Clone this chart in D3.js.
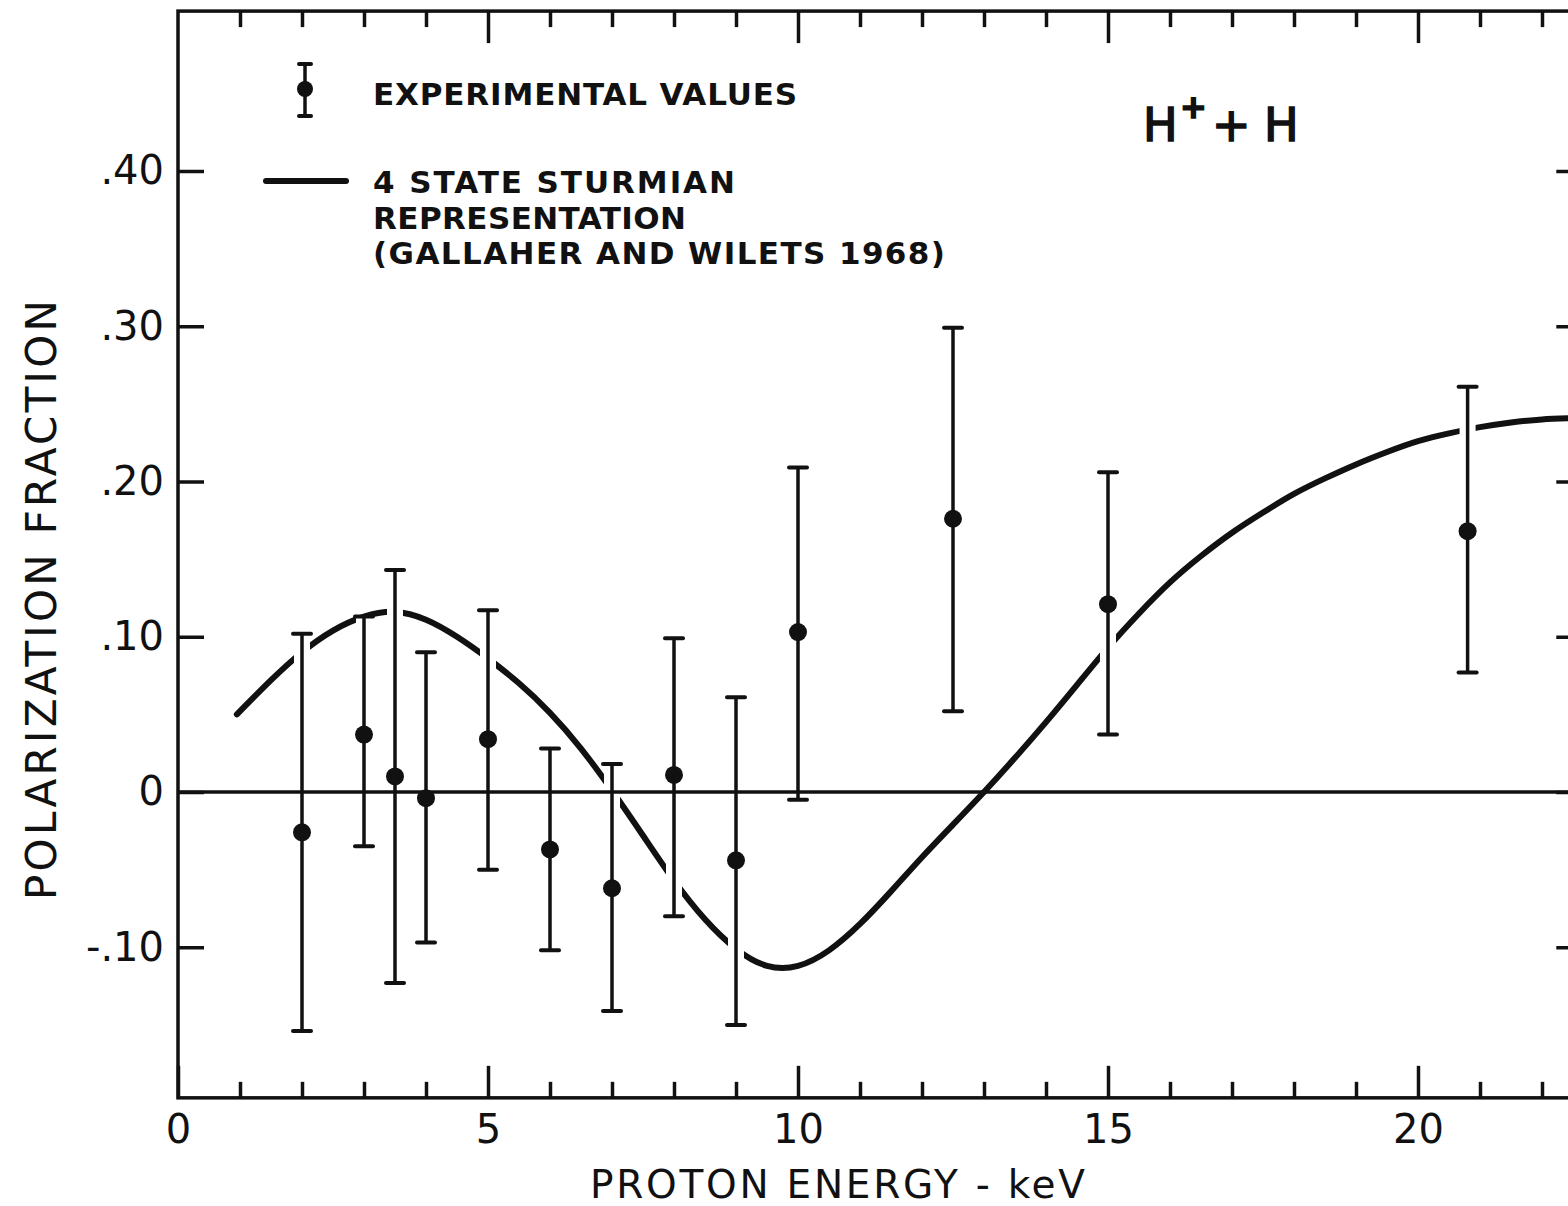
<!DOCTYPE html>
<html>
  <head>
    <meta charset="utf-8">
    <title>Polarization fraction, H+ + H</title>
    <script src="https://cdn.jsdelivr.net/npm/d3@7"></script>
    <style type="text/css">
      body { margin: 0; background: #fff; }
      svg { display: block; }
      text { font-family: "DejaVu Sans", sans-serif; fill: #111; }
    </style>
  </head>
  <body>
    <script>
    //Canvas size
    var svgWidth = 1568;
    var svgHeight = 1206;

    //Experimental points: energy (keV), value, top and bottom of the error bar
    var energy       = [2, 3, 3.5, 4, 5, 6, 7, 8, 9, 10, 12.5, 15, 20.8];
    var polarization = [-0.026, 0.037, 0.010, -0.004, 0.034, -0.037, -0.062, 0.011, -0.044, 0.103, 0.176, 0.121, 0.168];
    var errUpper     = [0.102, 0.113, 0.143, 0.090, 0.117, 0.028, 0.018, 0.099, 0.061, 0.209, 0.299, 0.206, 0.261];
    var errLower     = [-0.154, -0.035, -0.123, -0.097, -0.050, -0.102, -0.141, -0.080, -0.150, -0.005, 0.052, 0.037, 0.077];

    //4 state Sturmian curve
    var curveEnergy = [0.95, 1.5, 2, 2.5, 3, 3.5, 4, 4.5, 5, 5.5, 6, 6.5, 7, 7.5, 8, 8.5, 9, 9.5, 10, 10.5, 11, 11.5,
                       12, 12.5, 13, 13.5, 14, 14.5, 15, 15.5, 16, 16.5, 17, 17.5, 18, 18.5, 19, 19.5, 20, 20.5, 21, 21.5, 22, 22.65];
    var curveValue  = [0.050, 0.072, 0.090, 0.104, 0.113, 0.116, 0.111, 0.100, 0.086, 0.070, 0.051, 0.028, 0.001, -0.028,
                       -0.057, -0.082, -0.101, -0.112, -0.112, -0.102, -0.085, -0.064, -0.042, -0.021, 0.000, 0.022,
                       0.045, 0.069, 0.093, 0.115, 0.135, 0.152, 0.167, 0.180, 0.192, 0.202, 0.211, 0.219, 0.226,
                       0.231, 0.235, 0.238, 0.240, 0.241];

    //Ticks and labels
    var xMajorTicks = [0, 5, 10, 15, 20];
    var xMinorTicks = [1, 2, 3, 4, 6, 7, 8, 9, 11, 12, 13, 14, 16, 17, 18, 19, 21, 22];
    var yTicks = [-0.1, 0, 0.1, 0.2, 0.3, 0.4];
    var yTickLabels = ["-.10", "0", ".10", ".20", ".30", ".40"];

    //Frame extent in data units (right edge runs off the page)
    var xDomain = [0, 22.65];
    var yDomain = [-0.197, 0.503];

    var xScale = d3.scaleLinear().domain(xDomain).range([178, 178 + 62 * 22.65]);
    var yScale = d3.scaleLinear().domain(yDomain).range([792 + 1552.5 * 0.197, 792 - 1552.5 * 0.503]);

    var svg = d3.select("body")
      .append("svg")
        .attr("width", svgWidth)
        .attr("height", svgHeight);

    var x0 = xScale(xDomain[0]), x1 = xScale(xDomain[1]);
    var y0 = yScale(yDomain[0]), y1 = yScale(yDomain[1]);

    //Frame
    svg.append("rect")
      .attr("x", x0).attr("y", y1)
      .attr("width", x1 - x0).attr("height", y0 - y1)
      .attr("fill", "none").attr("stroke", "#111").attr("stroke-width", 3.5);

    function styleAxis(g) {
      g.select(".domain").remove();
      g.selectAll(".tick line").attr("stroke", "#111").attr("stroke-width", 3.5);
      g.selectAll(".tick text").attr("font-size", 40).attr("fill", "#111")
        .style("font-family", "'DejaVu Sans', sans-serif");
    }

    //Bottom axis: long labelled ticks and short minor ones, all pointing inwards
    svg.append("g").attr("transform", "translate(0," + y0 + ")")
      .call(d3.axisBottom(xScale).tickValues(xMajorTicks).tickSize(-32).tickPadding(17).tickFormat(d3.format("d")))
      .call(styleAxis);
    svg.append("g").attr("transform", "translate(0," + y0 + ")")
      .call(d3.axisBottom(xScale).tickValues(xMinorTicks).tickSize(-16).tickFormat(""))
      .call(styleAxis);

    //Top axis
    svg.append("g").attr("transform", "translate(0," + y1 + ")")
      .call(d3.axisTop(xScale).tickValues(xMajorTicks.filter(function(d){ return d > 0; })).tickSize(-32).tickFormat(""))
      .call(styleAxis);
    svg.append("g").attr("transform", "translate(0," + y1 + ")")
      .call(d3.axisTop(xScale).tickValues(xMinorTicks).tickSize(-16).tickFormat(""))
      .call(styleAxis);

    //Left and right axes
    svg.append("g").attr("transform", "translate(" + x0 + ",0)")
      .call(d3.axisLeft(yScale).tickValues(yTicks).tickSize(-26).tickPadding(14)
        .tickFormat(function(d, i){ return yTickLabels[i]; }))
      .call(styleAxis);
    svg.append("g").attr("transform", "translate(" + x1 + ",0)")
      .call(d3.axisRight(yScale).tickValues(yTicks).tickSize(-26).tickFormat(""))
      .call(styleAxis);

    //Theory curve
    var line = d3.line()
      .x(function(d){ return xScale(d[0]); })
      .y(function(d){ return yScale(d[1]); })
      .curve(d3.curveNatural);

    svg.append("path")
      .datum(d3.zip(curveEnergy, curveValue))
      .attr("d", line)
      .attr("fill", "none")
      .attr("stroke", "#111")
      .attr("stroke-width", 6)
      .attr("stroke-linecap", "round");

    var points = energy.map(function(e, i) {
      return { e: e, v: polarization[i], hi: errUpper[i], lo: errLower[i] };
    });

    //White gaps where the error bars cross the curve, as drawn in the original
    svg.selectAll("line.gap")
      .data(points)
      .enter()
      .append("line")
      .attr("class", "gap")
      .attr("x1", function(d){ return xScale(d.e); })
      .attr("x2", function(d){ return xScale(d.e); })
      .attr("y1", function(d){ return yScale(d.hi); })
      .attr("y2", function(d){ return yScale(d.lo); })
      .attr("stroke", "#fff")
      .attr("stroke-width", 16);

    //Zero line
    svg.append("line")
      .attr("x1", x0).attr("x2", x1)
      .attr("y1", yScale(0)).attr("y2", yScale(0))
      .attr("stroke", "#111").attr("stroke-width", 3.5);

    //Error bars
    svg.selectAll("line.err")
      .data(points)
      .enter()
      .append("line")
      .attr("class", "err")
      .attr("x1", function(d){ return xScale(d.e); })
      .attr("x2", function(d){ return xScale(d.e); })
      .attr("y1", function(d){ return yScale(d.hi); })
      .attr("y2", function(d){ return yScale(d.lo); })
      .attr("stroke", "#111")
      .attr("stroke-width", 3.5);

    var caps = [];
    points.forEach(function(d){ caps.push(d.hi, d.lo); });
    svg.selectAll("line.cap")
      .data(caps)
      .enter()
      .append("line")
      .attr("class", "cap")
      .attr("x1", function(d, i){ return xScale(points[Math.floor(i / 2)].e) - 9; })
      .attr("x2", function(d, i){ return xScale(points[Math.floor(i / 2)].e) + 9; })
      .attr("y1", function(d){ return yScale(d); })
      .attr("y2", function(d){ return yScale(d); })
      .attr("stroke", "#111")
      .attr("stroke-width", 4)
      .attr("stroke-linecap", "round");

    svg.selectAll("circle.pt")
      .data(points)
      .enter()
      .append("circle")
      .attr("class", "pt")
      .attr("cx", function(d){ return xScale(d.e); })
      .attr("cy", function(d){ return yScale(d.v); })
      .attr("r", 9)
      .attr("fill", "#111");

    //Legend
    var legend = svg.append("g");
    legend.append("line").attr("x1", 305).attr("x2", 305).attr("y1", 64).attr("y2", 116)
      .attr("stroke", "#111").attr("stroke-width", 3.5);
    legend.selectAll("line.lcap").data([64, 116]).enter().append("line")
      .attr("x1", 299).attr("x2", 311).attr("y1", function(d){ return d; }).attr("y2", function(d){ return d; })
      .attr("stroke", "#111").attr("stroke-width", 4).attr("stroke-linecap", "round");
    legend.append("circle").attr("cx", 305).attr("cy", 89).attr("r", 8).attr("fill", "#111");
    legend.append("line").attr("x1", 266).attr("x2", 346).attr("y1", 181).attr("y2", 181)
      .attr("stroke", "#111").attr("stroke-width", 6).attr("stroke-linecap", "round");

    var legendLines = [
      { t: "EXPERIMENTAL VALUES", y: 105, w: 424 },
      { t: "4 STATE STURMIAN", y: 193, w: 362 },
      { t: "REPRESENTATION", y: 229, w: 313 },
      { t: "(GALLAHER AND WILETS 1968)", y: 264, w: 572 }
    ];
    legend.selectAll("text")
      .data(legendLines)
      .enter()
      .append("text")
      .attr("x", 373)
      .attr("y", function(d){ return d.y; })
      .attr("textLength", function(d){ return d.w; })
      .attr("lengthAdjust", "spacing")
      .attr("font-size", 31)
      .attr("font-weight", "bold")
      .text(function(d){ return d.t; });

    //Reaction label
    var react = svg.append("text").attr("font-size", 46).attr("y", 141)
      .attr("stroke", "#111").attr("stroke-width", 1.6);
    react.append("tspan").attr("x", 1143).text("H");
    react.append("tspan").attr("x", 1180).attr("y", 118).attr("font-size", 32).attr("font-weight", "bold").text("+");
    react.append("tspan").attr("x", 1212).attr("y", 141).text("+");
    react.append("tspan").attr("x", 1264).text("H");

    //Axis titles
    svg.append("text")
      .attr("x", 590).attr("y", 1198)
      .attr("textLength", 495).attr("lengthAdjust", "spacing")
      .attr("font-size", 39)
      .text("PROTON ENERGY - keV");

    svg.append("text")
      .attr("transform", "translate(56,900) rotate(-90)")
      .attr("textLength", 600).attr("lengthAdjust", "spacing")
      .attr("font-size", 42)
      .text("POLARIZATION FRACTION");
    </script>
  </body>
</html>
